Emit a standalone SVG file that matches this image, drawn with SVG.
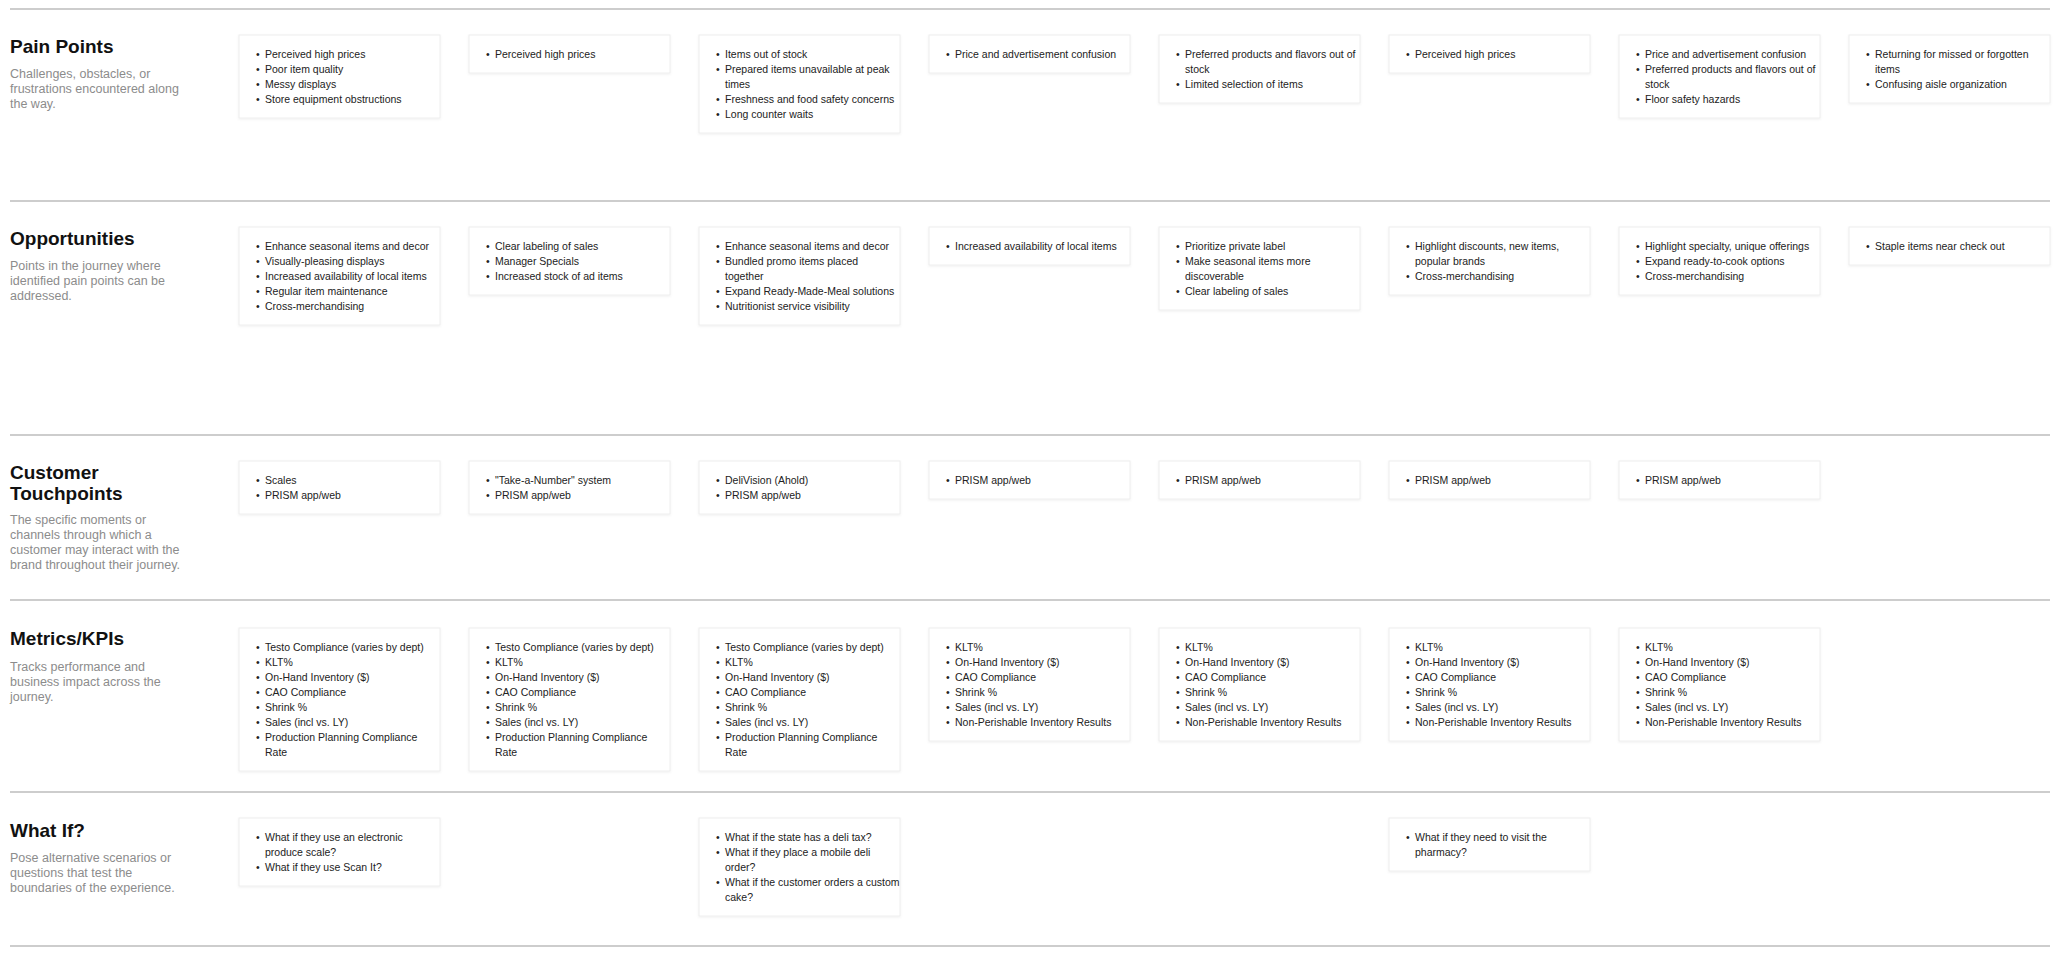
<svg xmlns="http://www.w3.org/2000/svg" width="2060" height="957" viewBox="0 0 2060 957">
<style>
.sep{stroke:#bdbdbd;stroke-width:1.3}
.card{fill:#fff;stroke:#eeeeee;stroke-width:1}
.t{font-family:"Liberation Sans",Arial,sans-serif;font-size:10.5px;fill:#222}
.h{font-family:"Liberation Sans",Arial,sans-serif;font-size:19px;font-weight:bold;fill:#111}
.d{font-family:"Liberation Sans",Arial,sans-serif;font-size:12.5px;fill:#8c8c8c}
</style>
<defs><filter id="sh" x="-10%" y="-10%" width="120%" height="130%"><feDropShadow dx="0" dy="1" stdDeviation="1.2" flood-color="#000" flood-opacity="0.06"/></filter></defs>
<rect width="2060" height="957" fill="#fff"/>
<g id="connectors">
<line class="sep" x1="10" y1="9" x2="2050" y2="9"/>
<line class="sep" x1="10" y1="201" x2="2050" y2="201"/>
<line class="sep" x1="10" y1="435" x2="2050" y2="435"/>
<line class="sep" x1="10" y1="600" x2="2050" y2="600"/>
<line class="sep" x1="10" y1="792" x2="2050" y2="792"/>
<line class="sep" x1="10" y1="946" x2="2050" y2="946"/>
</g>
<g id="row-labels">
<text class="h" x="10" y="53">Pain Points</text>
<text class="d" x="10" y="78">Challenges, obstacles, or</text><text class="d" x="10" y="93">frustrations encountered along</text><text class="d" x="10" y="108">the way.</text>
<text class="h" x="10" y="245">Opportunities</text>
<text class="d" x="10" y="270">Points in the journey where</text><text class="d" x="10" y="285">identified pain points can be</text><text class="d" x="10" y="300">addressed.</text>
<text class="h" x="10" y="479">Customer</text><text class="h" x="10" y="500">Touchpoints</text>
<text class="d" x="10" y="524">The specific moments or</text><text class="d" x="10" y="539">channels through which a</text><text class="d" x="10" y="554">customer may interact with the</text><text class="d" x="10" y="569">brand throughout their journey.</text>
<text class="h" x="10" y="645">Metrics/KPIs</text>
<text class="d" x="10" y="671">Tracks performance and</text><text class="d" x="10" y="686">business impact across the</text><text class="d" x="10" y="701">journey.</text>
<text class="h" x="10" y="837">What If?</text>
<text class="d" x="10" y="862">Pose alternative scenarios or</text><text class="d" x="10" y="877">questions that test the</text><text class="d" x="10" y="892">boundaries of the experience.</text>
</g>

<!-- Pain Points -->
<g id="pain-0"><rect class="card" filter="url(#sh)" x="239" y="35" width="201" height="83"/>
<text class="t" x="256" y="58">•</text><text class="t" x="265" y="58">Perceived high prices</text>
<text class="t" x="256" y="73">•</text><text class="t" x="265" y="73">Poor item quality</text>
<text class="t" x="256" y="88">•</text><text class="t" x="265" y="88">Messy displays</text>
<text class="t" x="256" y="103">•</text><text class="t" x="265" y="103">Store equipment obstructions</text></g>
<g id="pain-1"><rect class="card" filter="url(#sh)" x="469" y="35" width="201" height="38"/>
<text class="t" x="486" y="58">•</text><text class="t" x="495" y="58">Perceived high prices</text></g>
<g id="pain-2"><rect class="card" filter="url(#sh)" x="699" y="35" width="201" height="98"/>
<text class="t" x="716" y="58">•</text><text class="t" x="725" y="58">Items out of stock</text>
<text class="t" x="716" y="73">•</text><text class="t" x="725" y="73">Prepared items unavailable at peak</text>
<text class="t" x="725" y="88">times</text>
<text class="t" x="716" y="103">•</text><text class="t" x="725" y="103">Freshness and food safety concerns</text>
<text class="t" x="716" y="118">•</text><text class="t" x="725" y="118">Long counter waits</text></g>
<g id="pain-3"><rect class="card" filter="url(#sh)" x="929" y="35" width="201" height="38"/>
<text class="t" x="946" y="58">•</text><text class="t" x="955" y="58">Price and advertisement confusion</text></g>
<g id="pain-4"><rect class="card" filter="url(#sh)" x="1159" y="35" width="201" height="68"/>
<text class="t" x="1176" y="58">•</text><text class="t" x="1185" y="58">Preferred products and flavors out of</text>
<text class="t" x="1185" y="73">stock</text>
<text class="t" x="1176" y="88">•</text><text class="t" x="1185" y="88">Limited selection of items</text></g>
<g id="pain-5"><rect class="card" filter="url(#sh)" x="1389" y="35" width="201" height="38"/>
<text class="t" x="1406" y="58">•</text><text class="t" x="1415" y="58">Perceived high prices</text></g>
<g id="pain-6"><rect class="card" filter="url(#sh)" x="1619" y="35" width="201" height="83"/>
<text class="t" x="1636" y="58">•</text><text class="t" x="1645" y="58">Price and advertisement confusion</text>
<text class="t" x="1636" y="73">•</text><text class="t" x="1645" y="73">Preferred products and flavors out of</text>
<text class="t" x="1645" y="88">stock</text>
<text class="t" x="1636" y="103">•</text><text class="t" x="1645" y="103">Floor safety hazards</text></g>
<g id="pain-7"><rect class="card" filter="url(#sh)" x="1849" y="35" width="201" height="68"/>
<text class="t" x="1866" y="58">•</text><text class="t" x="1875" y="58">Returning for missed or forgotten</text>
<text class="t" x="1875" y="73">items</text>
<text class="t" x="1866" y="88">•</text><text class="t" x="1875" y="88">Confusing aisle organization</text></g>

<!-- Opportunities -->
<g id="opp-0"><rect class="card" filter="url(#sh)" x="239" y="227" width="201" height="98"/>
<text class="t" x="256" y="250">•</text><text class="t" x="265" y="250">Enhance seasonal items and decor</text>
<text class="t" x="256" y="265">•</text><text class="t" x="265" y="265">Visually-pleasing displays</text>
<text class="t" x="256" y="280">•</text><text class="t" x="265" y="280">Increased availability of local items</text>
<text class="t" x="256" y="295">•</text><text class="t" x="265" y="295">Regular item maintenance</text>
<text class="t" x="256" y="310">•</text><text class="t" x="265" y="310">Cross-merchandising</text></g>
<g id="opp-1"><rect class="card" filter="url(#sh)" x="469" y="227" width="201" height="68"/>
<text class="t" x="486" y="250">•</text><text class="t" x="495" y="250">Clear labeling of sales</text>
<text class="t" x="486" y="265">•</text><text class="t" x="495" y="265">Manager Specials</text>
<text class="t" x="486" y="280">•</text><text class="t" x="495" y="280">Increased stock of ad items</text></g>
<g id="opp-2"><rect class="card" filter="url(#sh)" x="699" y="227" width="201" height="98"/>
<text class="t" x="716" y="250">•</text><text class="t" x="725" y="250">Enhance seasonal items and decor</text>
<text class="t" x="716" y="265">•</text><text class="t" x="725" y="265">Bundled promo items placed</text>
<text class="t" x="725" y="280">together</text>
<text class="t" x="716" y="295">•</text><text class="t" x="725" y="295">Expand Ready-Made-Meal solutions</text>
<text class="t" x="716" y="310">•</text><text class="t" x="725" y="310">Nutritionist service visibility</text></g>
<g id="opp-3"><rect class="card" filter="url(#sh)" x="929" y="227" width="201" height="38"/>
<text class="t" x="946" y="250">•</text><text class="t" x="955" y="250">Increased availability of local items</text></g>
<g id="opp-4"><rect class="card" filter="url(#sh)" x="1159" y="227" width="201" height="83"/>
<text class="t" x="1176" y="250">•</text><text class="t" x="1185" y="250">Prioritize private label</text>
<text class="t" x="1176" y="265">•</text><text class="t" x="1185" y="265">Make seasonal items more</text>
<text class="t" x="1185" y="280">discoverable</text>
<text class="t" x="1176" y="295">•</text><text class="t" x="1185" y="295">Clear labeling of sales</text></g>
<g id="opp-5"><rect class="card" filter="url(#sh)" x="1389" y="227" width="201" height="68"/>
<text class="t" x="1406" y="250">•</text><text class="t" x="1415" y="250">Highlight discounts, new items,</text>
<text class="t" x="1415" y="265">popular brands</text>
<text class="t" x="1406" y="280">•</text><text class="t" x="1415" y="280">Cross-merchandising</text></g>
<g id="opp-6"><rect class="card" filter="url(#sh)" x="1619" y="227" width="201" height="68"/>
<text class="t" x="1636" y="250">•</text><text class="t" x="1645" y="250">Highlight specialty, unique offerings</text>
<text class="t" x="1636" y="265">•</text><text class="t" x="1645" y="265">Expand ready-to-cook options</text>
<text class="t" x="1636" y="280">•</text><text class="t" x="1645" y="280">Cross-merchandising</text></g>
<g id="opp-7"><rect class="card" filter="url(#sh)" x="1849" y="227" width="201" height="38"/>
<text class="t" x="1866" y="250">•</text><text class="t" x="1875" y="250">Staple items near check out</text></g>

<!-- Touchpoints -->
<g id="touch-0"><rect class="card" filter="url(#sh)" x="239" y="461" width="201" height="53"/>
<text class="t" x="256" y="484">•</text><text class="t" x="265" y="484">Scales</text>
<text class="t" x="256" y="499">•</text><text class="t" x="265" y="499">PRISM app/web</text></g>
<g id="touch-1"><rect class="card" filter="url(#sh)" x="469" y="461" width="201" height="53"/>
<text class="t" x="486" y="484">•</text><text class="t" x="495" y="484">"Take-a-Number" system</text>
<text class="t" x="486" y="499">•</text><text class="t" x="495" y="499">PRISM app/web</text></g>
<g id="touch-2"><rect class="card" filter="url(#sh)" x="699" y="461" width="201" height="53"/>
<text class="t" x="716" y="484">•</text><text class="t" x="725" y="484">DeliVision (Ahold)</text>
<text class="t" x="716" y="499">•</text><text class="t" x="725" y="499">PRISM app/web</text></g>
<g id="touch-3"><rect class="card" filter="url(#sh)" x="929" y="461" width="201" height="38"/>
<text class="t" x="946" y="484">•</text><text class="t" x="955" y="484">PRISM app/web</text></g>
<g id="touch-4"><rect class="card" filter="url(#sh)" x="1159" y="461" width="201" height="38"/>
<text class="t" x="1176" y="484">•</text><text class="t" x="1185" y="484">PRISM app/web</text></g>
<g id="touch-5"><rect class="card" filter="url(#sh)" x="1389" y="461" width="201" height="38"/>
<text class="t" x="1406" y="484">•</text><text class="t" x="1415" y="484">PRISM app/web</text></g>
<g id="touch-6"><rect class="card" filter="url(#sh)" x="1619" y="461" width="201" height="38"/>
<text class="t" x="1636" y="484">•</text><text class="t" x="1645" y="484">PRISM app/web</text></g>

<!-- Metrics -->
<g id="kpi-0"><rect class="card" filter="url(#sh)" x="239" y="628" width="201" height="143"/>
<text class="t" x="256" y="651">•</text><text class="t" x="265" y="651">Testo Compliance (varies by dept)</text>
<text class="t" x="256" y="666">•</text><text class="t" x="265" y="666">KLT%</text>
<text class="t" x="256" y="681">•</text><text class="t" x="265" y="681">On-Hand Inventory ($)</text>
<text class="t" x="256" y="696">•</text><text class="t" x="265" y="696">CAO Compliance</text>
<text class="t" x="256" y="711">•</text><text class="t" x="265" y="711">Shrink %</text>
<text class="t" x="256" y="726">•</text><text class="t" x="265" y="726">Sales (incl vs. LY)</text>
<text class="t" x="256" y="741">•</text><text class="t" x="265" y="741">Production Planning Compliance</text>
<text class="t" x="265" y="756">Rate</text></g>
<g id="kpi-1"><rect class="card" filter="url(#sh)" x="469" y="628" width="201" height="143"/>
<text class="t" x="486" y="651">•</text><text class="t" x="495" y="651">Testo Compliance (varies by dept)</text>
<text class="t" x="486" y="666">•</text><text class="t" x="495" y="666">KLT%</text>
<text class="t" x="486" y="681">•</text><text class="t" x="495" y="681">On-Hand Inventory ($)</text>
<text class="t" x="486" y="696">•</text><text class="t" x="495" y="696">CAO Compliance</text>
<text class="t" x="486" y="711">•</text><text class="t" x="495" y="711">Shrink %</text>
<text class="t" x="486" y="726">•</text><text class="t" x="495" y="726">Sales (incl vs. LY)</text>
<text class="t" x="486" y="741">•</text><text class="t" x="495" y="741">Production Planning Compliance</text>
<text class="t" x="495" y="756">Rate</text></g>
<g id="kpi-2"><rect class="card" filter="url(#sh)" x="699" y="628" width="201" height="143"/>
<text class="t" x="716" y="651">•</text><text class="t" x="725" y="651">Testo Compliance (varies by dept)</text>
<text class="t" x="716" y="666">•</text><text class="t" x="725" y="666">KLT%</text>
<text class="t" x="716" y="681">•</text><text class="t" x="725" y="681">On-Hand Inventory ($)</text>
<text class="t" x="716" y="696">•</text><text class="t" x="725" y="696">CAO Compliance</text>
<text class="t" x="716" y="711">•</text><text class="t" x="725" y="711">Shrink %</text>
<text class="t" x="716" y="726">•</text><text class="t" x="725" y="726">Sales (incl vs. LY)</text>
<text class="t" x="716" y="741">•</text><text class="t" x="725" y="741">Production Planning Compliance</text>
<text class="t" x="725" y="756">Rate</text></g>
<g id="kpi-3"><rect class="card" filter="url(#sh)" x="929" y="628" width="201" height="113"/>
<text class="t" x="946" y="651">•</text><text class="t" x="955" y="651">KLT%</text>
<text class="t" x="946" y="666">•</text><text class="t" x="955" y="666">On-Hand Inventory ($)</text>
<text class="t" x="946" y="681">•</text><text class="t" x="955" y="681">CAO Compliance</text>
<text class="t" x="946" y="696">•</text><text class="t" x="955" y="696">Shrink %</text>
<text class="t" x="946" y="711">•</text><text class="t" x="955" y="711">Sales (incl vs. LY)</text>
<text class="t" x="946" y="726">•</text><text class="t" x="955" y="726">Non-Perishable Inventory Results</text></g>
<g id="kpi-4"><rect class="card" filter="url(#sh)" x="1159" y="628" width="201" height="113"/>
<text class="t" x="1176" y="651">•</text><text class="t" x="1185" y="651">KLT%</text>
<text class="t" x="1176" y="666">•</text><text class="t" x="1185" y="666">On-Hand Inventory ($)</text>
<text class="t" x="1176" y="681">•</text><text class="t" x="1185" y="681">CAO Compliance</text>
<text class="t" x="1176" y="696">•</text><text class="t" x="1185" y="696">Shrink %</text>
<text class="t" x="1176" y="711">•</text><text class="t" x="1185" y="711">Sales (incl vs. LY)</text>
<text class="t" x="1176" y="726">•</text><text class="t" x="1185" y="726">Non-Perishable Inventory Results</text></g>
<g id="kpi-5"><rect class="card" filter="url(#sh)" x="1389" y="628" width="201" height="113"/>
<text class="t" x="1406" y="651">•</text><text class="t" x="1415" y="651">KLT%</text>
<text class="t" x="1406" y="666">•</text><text class="t" x="1415" y="666">On-Hand Inventory ($)</text>
<text class="t" x="1406" y="681">•</text><text class="t" x="1415" y="681">CAO Compliance</text>
<text class="t" x="1406" y="696">•</text><text class="t" x="1415" y="696">Shrink %</text>
<text class="t" x="1406" y="711">•</text><text class="t" x="1415" y="711">Sales (incl vs. LY)</text>
<text class="t" x="1406" y="726">•</text><text class="t" x="1415" y="726">Non-Perishable Inventory Results</text></g>
<g id="kpi-6"><rect class="card" filter="url(#sh)" x="1619" y="628" width="201" height="113"/>
<text class="t" x="1636" y="651">•</text><text class="t" x="1645" y="651">KLT%</text>
<text class="t" x="1636" y="666">•</text><text class="t" x="1645" y="666">On-Hand Inventory ($)</text>
<text class="t" x="1636" y="681">•</text><text class="t" x="1645" y="681">CAO Compliance</text>
<text class="t" x="1636" y="696">•</text><text class="t" x="1645" y="696">Shrink %</text>
<text class="t" x="1636" y="711">•</text><text class="t" x="1645" y="711">Sales (incl vs. LY)</text>
<text class="t" x="1636" y="726">•</text><text class="t" x="1645" y="726">Non-Perishable Inventory Results</text></g>

<!-- What If -->
<g id="whatif-0"><rect class="card" filter="url(#sh)" x="239" y="818" width="201" height="68"/>
<text class="t" x="256" y="841">•</text><text class="t" x="265" y="841">What if they use an electronic</text>
<text class="t" x="265" y="856">produce scale?</text>
<text class="t" x="256" y="871">•</text><text class="t" x="265" y="871">What if they use Scan It?</text></g>
<g id="whatif-2"><rect class="card" filter="url(#sh)" x="699" y="818" width="201" height="98"/>
<text class="t" x="716" y="841">•</text><text class="t" x="725" y="841">What if the state has a deli tax?</text>
<text class="t" x="716" y="856">•</text><text class="t" x="725" y="856">What if they place a mobile deli</text>
<text class="t" x="725" y="871">order?</text>
<text class="t" x="716" y="886">•</text><text class="t" x="725" y="886">What if the customer orders a custom</text>
<text class="t" x="725" y="901">cake?</text></g>
<g id="whatif-5"><rect class="card" filter="url(#sh)" x="1389" y="818" width="201" height="53"/>
<text class="t" x="1406" y="841">•</text><text class="t" x="1415" y="841">What if they need to visit the</text>
<text class="t" x="1415" y="856">pharmacy?</text></g>
</svg>
